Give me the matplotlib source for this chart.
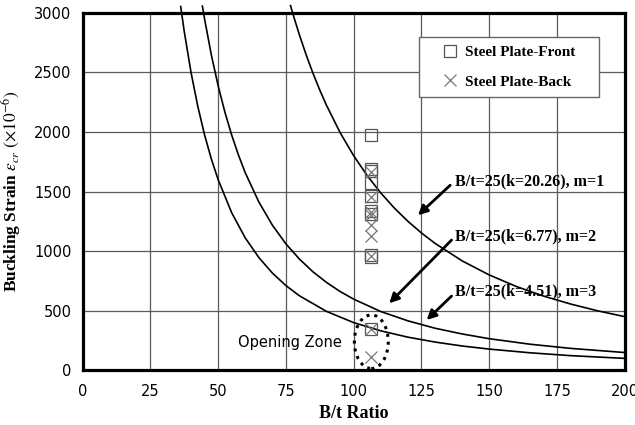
import matplotlib
matplotlib.use("Agg")
import matplotlib.pyplot as plt
from matplotlib.patches import Ellipse, Rectangle

plt.rcParams['mathtext.fontset'] = 'stix'

# ---- data ----
# theoretical buckling curves (B/t ratio, strain x1e-6)
c1_x = [76.7, 78, 80, 82.5, 85, 87.5, 90, 95, 100, 105, 110, 115, 120, 125, 130, 140, 150, 160, 170, 180, 190, 200]
c1_y = [3060, 2959, 2813, 2645, 2491, 2351, 2222, 1994, 1800, 1633, 1488, 1361, 1250, 1152, 1065, 918, 800, 703, 623, 556, 499, 450]
c2_x = [44.2, 45, 47.5, 50, 52.5, 55, 57.5, 60, 65, 70, 75, 80, 85, 90, 95, 100, 110, 120, 130, 140, 150, 165, 180, 200]
c2_y = [3056, 2948, 2646, 2388, 2166, 1974, 1806, 1658, 1413, 1218, 1061, 933, 826, 737, 661, 597, 493, 415, 353, 305, 265, 219, 184, 149]
c3_x = [36.2, 37.5, 40, 42.5, 45, 47.5, 50, 55, 60, 65, 70, 75, 80, 90, 100, 110, 120, 130, 140, 150, 165, 180, 200]
c3_y = [3052, 2844, 2500, 2215, 1975, 1773, 1600, 1322, 1111, 947, 816, 711, 625, 494, 400, 331, 278, 237, 204, 178, 147, 123, 100]

# measured points
front_x = [106.5] * 10
front_y = [1975, 1690, 1670, 1570, 1460, 1340, 1310, 970, 950, 345]
back_x = [106.5] * 9
back_y = [1660, 1450, 1330, 1300, 1220, 1130, 960, 345, 110]

curve_labels = ["B/t=25(k=20.26), m=1", "B/t=25(k=6.77), m=2", "B/t=25(k=4.51), m=3"]
label_x = [137.4, 137.4, 137.4]
label_y = [1582, 1127, 660]
arrow_tail = [(135.6, 1553), (136.1, 1093), (136.1, 623)]
arrow_head = [(123.7, 1301), (113.1, 562), (126.9, 422)]

x_ticks = [0, 25, 50, 75, 100, 125, 150, 175, 200]
y_ticks = [0, 500, 1000, 1500, 2000, 2500, 3000]

# ---- figure ----
fig = plt.figure(figsize=(6.35, 4.25), dpi=100)
ax = fig.add_axes([0.130, 0.1287, 0.854, 0.8413])

for xs, ys in [(c1_x, c1_y), (c2_x, c2_y), (c3_x, c3_y)]:
    ax.plot(xs, ys, color='black', lw=1.2, clip_on=False, zorder=3)

ax.plot(front_x, front_y, ls='none', marker='s', ms=8, mfc='none', mec='#555555',
        mew=0.9, label='Steel Plate-Front', zorder=4)
ax.plot(back_x, back_y, ls='none', marker='x', ms=9, mec='#777777',
        mew=0.9, label='Steel Plate-Back', zorder=4)

ax.set_xlim(0, 200)
ax.set_ylim(0, 3000)
ax.set_xticks(x_ticks)
ax.set_yticks(y_ticks)
ax.tick_params(length=0, labelsize=10.5)
ax.tick_params(axis='x', pad=10)
ax.tick_params(axis='y', pad=8)
ax.grid(True, color='#5a5a5a', lw=0.9)
ax.set_axisbelow(True)
for s in ax.spines.values():
    s.set_linewidth(2.3)
    s.set_color('black')

ax.set_xlabel("B/t Ratio", family='Liberation Serif', fontweight='bold', fontsize=13, labelpad=4)
ax.set_ylabel(r"Buckling Strain $\varepsilon_{cr}$ $\mathrm{(\times10^{-6})}$",
              family='Liberation Serif', fontweight='bold', fontsize=12.5, labelpad=8)

# legend with separate white frame
frame = Rectangle((0.620, 0.765), 0.332, 0.166, transform=ax.transAxes,
                  facecolor='white', edgecolor='#666666', lw=1.0, zorder=5)
ax.add_patch(frame)
leg = ax.legend(loc='center', bbox_to_anchor=(0.786, 0.848), frameon=False,
                prop={'family': 'Liberation Serif', 'weight': 'bold', 'size': 11},
                handlelength=1.0, handletextpad=0.5, labelspacing=1.05)
leg.set_zorder(6)

# annotations
for txt, tx, ty, tail, head in zip(curve_labels, label_x, label_y, arrow_tail, arrow_head):
    ax.text(tx, ty, txt, family='Liberation Serif', fontweight='bold', fontsize=11.5,
            ha='left', va='center', zorder=6)
    ax.annotate('', xy=head, xytext=tail,
                arrowprops=dict(arrowstyle='-|>', color='black', lw=2.0,
                                mutation_scale=14, shrinkA=0, shrinkB=0), zorder=6)

ax.add_patch(Ellipse((106.5, 240), 12.5, 450, fill=False, ls=(0, (1, 1.6)), lw=2.2,
                     edgecolor='black', zorder=5))
ax.text(57.4, 231, "Opening Zone", family='DejaVu Sans', fontsize=10.5, ha='left',
        va='center', zorder=6)

fig.savefig("out.png", dpi=100)
